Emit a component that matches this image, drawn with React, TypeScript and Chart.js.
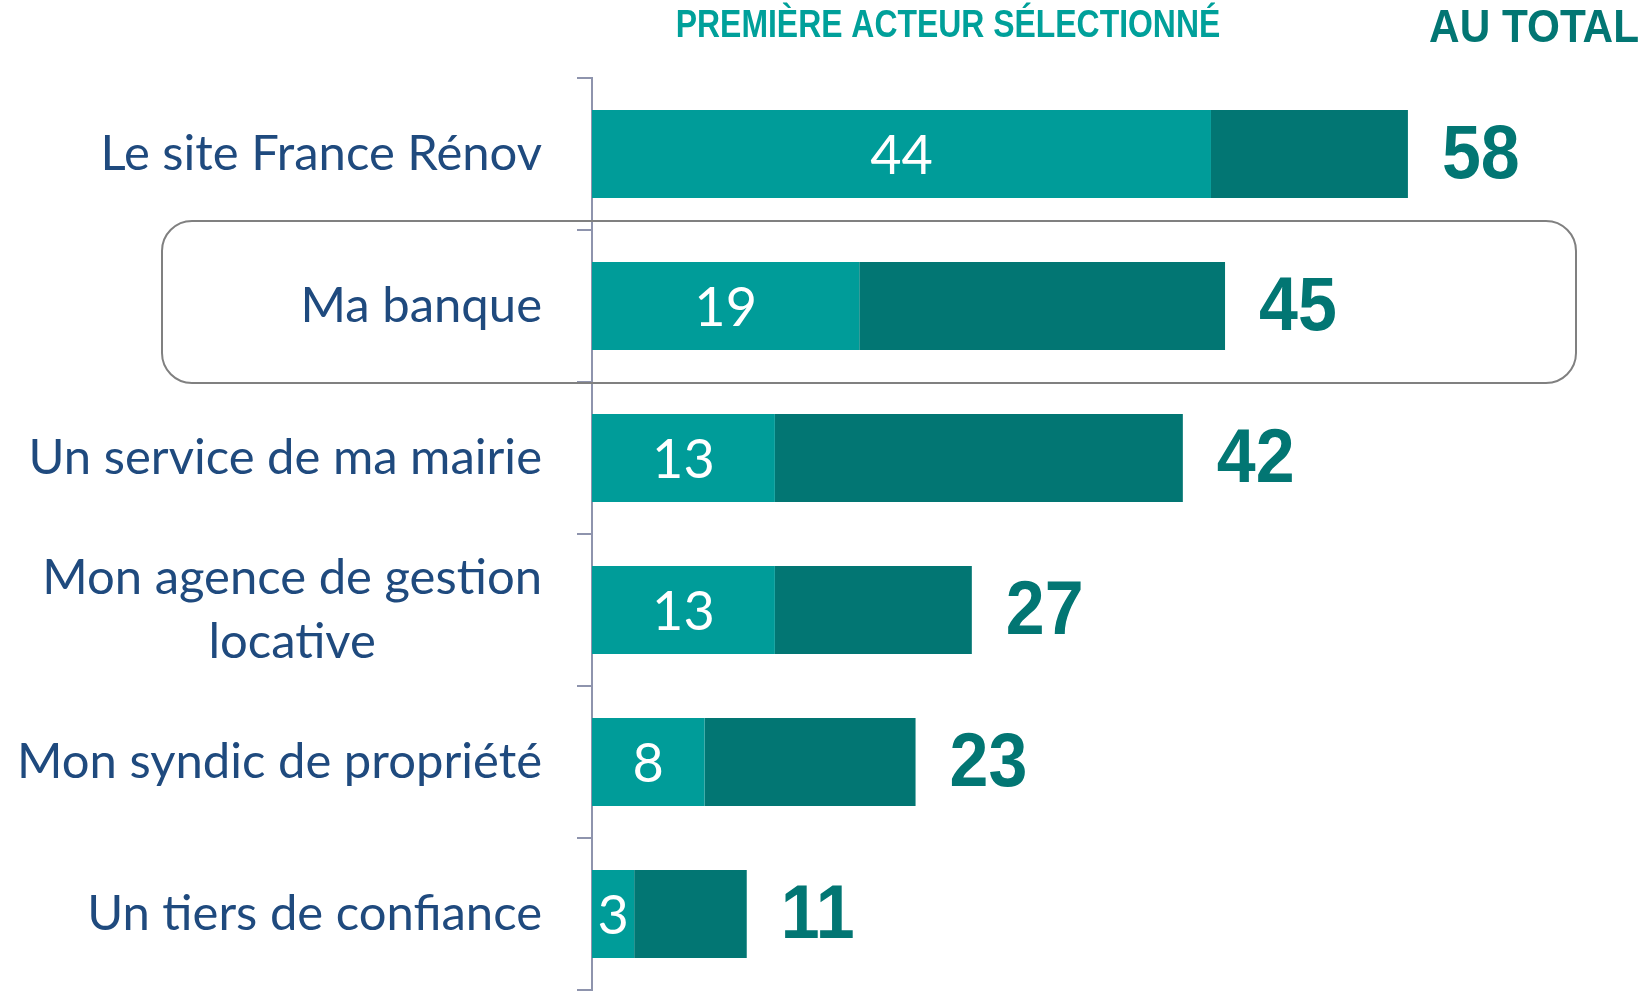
import React, { useEffect, useRef } from "react";
import { Chart, registerables } from "chart.js";

Chart.register(...registerables);

const categories: (string | string[])[] = [
  "Le site France Rénov",
  "Ma banque",
  "Un service de ma mairie",
  ["Mon agence de gestion", "locative"],
  "Mon syndic de propriété",
  "Un tiers de confiance",
];
const firstValues = [44, 19, 13, 13, 8, 3];
const totalValues = [58, 45, 42, 27, 23, 11];
const restValues = totalValues.map((t, i) => t - firstValues[i]);
const headerFirst = "PREMIÈRE ACTEUR SÉLECTIONNÉ";
const headerTotal = "AU TOTAL";
const highlightIndex = 1;

const LIGHT = "#009c99";
const DARK = "#027673";
const LABEL = "#1f4a7e";
const AXIS = "#8e94ad";

const overlay = {
  id: "overlay",
  beforeDatasetsDraw(chart: any) {
    const { ctx, scales } = chart;
    const y = scales.y;
    const band = y.getPixelForValue(1) - y.getPixelForValue(0);
    const cy = y.getPixelForValue(highlightIndex);
    const top = cy - band / 2 - 9;
    const bottom = cy + band / 2 + 1;
    const left = 162;
    const right = chart.chartArea.right - 57;
    const r = 30;
    ctx.save();
    ctx.strokeStyle = "#808080";
    ctx.lineWidth = 2;
    ctx.beginPath();
    ctx.roundRect(left, top, right - left, bottom - top, r);
    ctx.stroke();
    ctx.restore();
  },
  afterDraw(chart: any) {
    const { ctx, scales, chartArea } = chart;
    const x = scales.x;
    const y = scales.y;
    ctx.save();
    // category labels
    ctx.fillStyle = LABEL;
    ctx.font = "49px Lato";
    ctx.textBaseline = "middle";
    const labelRight = chartArea.left - 50;
    categories.forEach((c, i) => {
      const lines = Array.isArray(c) ? c : [c];
      const cy = y.getPixelForValue(i);
      const lh = 64;
      const w = Math.max(...lines.map((l) => ctx.measureText(l).width));
      const cx = labelRight - w / 2;
      ctx.textAlign = "center";
      lines.forEach((l, k) => {
        const ly = cy + (k - (lines.length - 1) / 2) * lh;
        ctx.fillText(l, cx, ly);
      });
    });
    // inside labels
    ctx.fillStyle = "#ffffff";
    ctx.font = "54px Lato";
    ctx.textAlign = "center";
    firstValues.forEach((v, i) => {
      const px = (x.getPixelForValue(0) + x.getPixelForValue(v)) / 2;
      ctx.fillText(String(v), px, y.getPixelForValue(i) + 3);
    });
    // totals
    ctx.fillStyle = DARK;
    ctx.font = "bold 76px 'Liberation Sans'";
    ctx.textAlign = "left";
    totalValues.forEach((v, i) => {
      const px = x.getPixelForValue(v) + 34;
      const py = y.getPixelForValue(i) + 3;
      ctx.save();
      ctx.translate(px, py);
      ctx.scale(0.92, 1);
      ctx.fillText(String(v), 0, 0);
      ctx.restore();
    });
    // headers
    ctx.save();
    ctx.fillStyle = "#00a09a";
    ctx.font = "bold 38px 'Liberation Sans'";
    ctx.textAlign = "center";
    ctx.translate(948, 27);
    ctx.scale(0.84, 1);
    ctx.fillText(headerFirst, 0, 0);
    ctx.restore();
    ctx.save();
    ctx.fillStyle = DARK;
    ctx.font = "bold 47px 'Liberation Sans'";
    ctx.textAlign = "right";
    ctx.translate(1639, 29);
    ctx.scale(0.9, 1);
    ctx.fillText(headerTotal, 0, 0);
    ctx.restore();
    ctx.restore();
  },
};

export default function App() {
  const ref = useRef<HTMLCanvasElement>(null);
  useEffect(() => {
    document.body.style.margin = "0";
    const chart = new Chart(ref.current!, {
      type: "bar",
      data: {
        labels: categories as any,
        datasets: [
          { data: firstValues, backgroundColor: LIGHT, barPercentage: 0.58, categoryPercentage: 1 },
          { data: restValues, backgroundColor: DARK, barPercentage: 0.58, categoryPercentage: 1 },
        ],
      },
      options: {
        indexAxis: "y",
        responsive: false,
        animation: false,
        layout: { padding: { top: 78, bottom: 5, left: 0, right: 7 } },
        plugins: { legend: { display: false }, tooltip: { enabled: false }, title: { display: false } },
        scales: {
          x: { display: false, stacked: true, min: 0, max: 74 },
          y: {
            stacked: true,
            position: "left",
            grid: { display: true, drawOnChartArea: false, drawTicks: true, tickLength: 15, color: AXIS, lineWidth: 2, offset: true },
            border: { display: true, color: AXIS, width: 2 },
            ticks: { display: false },
            afterFit: (s: any) => {
              s.width = 592;
            },
          },
        },
      },
      plugins: [overlay],
    });
    return () => chart.destroy();
  }, []);
  return (
    <div style={{ position: "absolute", left: 0, top: 0, width: 1640, height: 995 }}>
      <canvas ref={ref} width={1640} height={995} />
    </div>
  );
}
